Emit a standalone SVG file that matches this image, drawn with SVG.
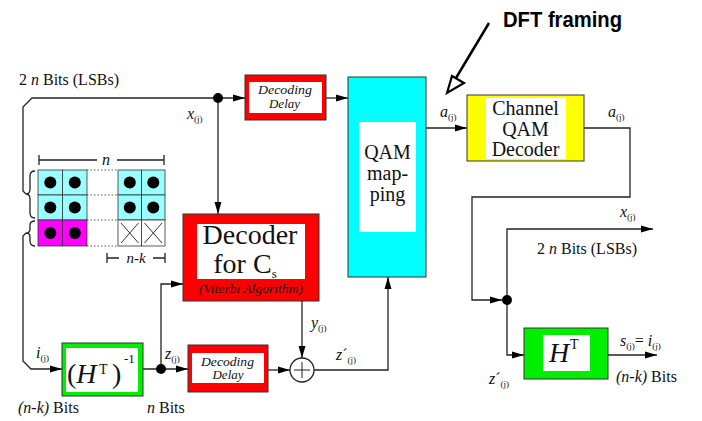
<svg xmlns="http://www.w3.org/2000/svg" width="702" height="421" viewBox="0 0 702 421">
<defs>
<marker id="ah" markerUnits="userSpaceOnUse" markerWidth="12" markerHeight="8" refX="12" refY="4" orient="auto">
<path d="M0,0.5 L12,4 L0,7.5 z" fill="#000"/>
</marker>
<style>
.ln{fill:none;stroke:#222;stroke-width:1.3}
.bx{stroke:#333;stroke-width:1}
.t{font-family:"Liberation Serif",serif;fill:#111}
.i{font-style:italic}
.sub{font-size:9px;font-style:normal}
.cell{stroke:#333;stroke-width:0.8}
.dot{fill:#000}
.dl{font-family:"Liberation Serif",serif;fill:#111;font-style:italic;font-size:12px}
</style>
</defs>
<rect width="702" height="421" fill="#fff"/>

<g id="connectors">
<path class="ln" d="M26 194 L23 191 L23 107 L32 98 L245 98" marker-end="url(#ah)"/>
<path class="ln" d="M218 98 L218 214" marker-end="url(#ah)"/>
<path class="ln" d="M326 98 L348 98" marker-end="url(#ah)"/>
<path class="ln" d="M426 128 L467 128" marker-end="url(#ah)"/>
<path class="ln" d="M584 128 L630 128 L630 197 L472 197 L472 300 L502 300" marker-end="url(#ah)"/>
<path class="ln" d="M507 300 L507 229 L653 229" marker-end="url(#ah)"/>
<path class="ln" d="M507 300 L507 355 L524 355" marker-end="url(#ah)"/>
<path class="ln" d="M608 355 L657 355" marker-end="url(#ah)"/>
<path class="ln" d="M26 233 L23 236 L23 361 L31 369 L62 369" marker-end="url(#ah)"/>
<path class="ln" d="M143 369 L188 369" marker-end="url(#ah)"/>
<path class="ln" d="M161 369 L161 284 L183 284" marker-end="url(#ah)"/>
<path class="ln" d="M268 370 L290 370" marker-end="url(#ah)"/>
<path class="ln" d="M302 301 L302 358" marker-end="url(#ah)"/>
<path class="ln" d="M314 370 L388 370 L388 277" marker-end="url(#ah)"/>
<circle class="dot" cx="218" cy="98" r="5"/>
<circle class="dot" cx="161" cy="369" r="5"/>
<circle class="dot" cx="507" cy="300" r="5"/>
</g>

<g id="dft-framing">
<line x1="489" y1="23" x2="456" y2="78" stroke="#000" stroke-width="2.5"/>
<path d="M447 93 L452 76 L464 83 z" fill="#fff" stroke="#000" stroke-width="2.2" stroke-linejoin="miter"/>
<text x="503" y="27" font-family="'Liberation Sans',Arial,sans-serif" font-size="22" font-weight="bold" textLength="119" lengthAdjust="spacingAndGlyphs" fill="#000">DFT framing</text>
</g>

<g id="grid">
<rect class="cell" x="38" y="170" width="24.5" height="25" fill="#99ffff"/>
<rect class="cell" x="62.5" y="170" width="24.5" height="25" fill="#99ffff"/>
<rect class="cell" x="38" y="195" width="24.5" height="25" fill="#99ffff"/>
<rect class="cell" x="62.5" y="195" width="24.5" height="25" fill="#99ffff"/>
<rect class="cell" x="38" y="220" width="24.5" height="26" fill="#ff00ff"/>
<rect class="cell" x="62.5" y="220" width="24.5" height="26" fill="#ff00ff"/>
<rect class="cell" x="118" y="170" width="23.5" height="25" fill="#99ffff"/>
<rect class="cell" x="141.5" y="170" width="23.5" height="25" fill="#99ffff"/>
<rect class="cell" x="118" y="195" width="23.5" height="25" fill="#99ffff"/>
<rect class="cell" x="141.5" y="195" width="23.5" height="25" fill="#99ffff"/>
<rect class="cell" x="118" y="220" width="23.5" height="26" fill="#fff"/>
<rect class="cell" x="141.5" y="220" width="23.5" height="26" fill="#fff"/>
<path d="M121 223 L138.5 243 M138.5 223 L121 243 M144.5 223 L162 243 M162 223 L144.5 243" stroke="#333" stroke-width="1"/>
<path d="M87 170 L118 170 M87 195 L118 195 M87 220 L118 220 M87 246 L118 246" stroke="#555" stroke-width="1" stroke-dasharray="1.5 2"/>
<g class="dot">
<circle cx="50.3" cy="182.5" r="6"/><circle cx="74.8" cy="182.5" r="6"/>
<circle cx="50.3" cy="207.5" r="6"/><circle cx="74.8" cy="207.5" r="6"/>
<circle cx="50.3" cy="233" r="6"/><circle cx="74.8" cy="233" r="6"/>
<circle cx="129.8" cy="182.5" r="6"/><circle cx="153.3" cy="182.5" r="6"/>
<circle cx="129.8" cy="207.5" r="6"/><circle cx="153.3" cy="207.5" r="6"/>
</g>
<path class="ln" d="M39 155 L39 165 M39 160 L97 160 M117 160 L164 160 M164 155 L164 165"/>
<text class="t i" x="106" y="165" font-size="16" text-anchor="middle">n</text>
<path class="ln" d="M107 253 L107 263 M107 258 L119 258 M153 258 L165 258 M165 253 L165 263"/>
<text class="t i" x="136" y="263" font-size="15" text-anchor="middle">n-k</text>
<path class="ln" d="M35 171 Q30 171 30 176 L30 189 Q30 194 26 194 Q30 194 30 199 L30 213 Q30 218 35 218"/>
<path class="ln" d="M35 221 Q30 221 30 225 L30 229 Q30 233 26 233 Q30 233 30 237 L30 241 Q30 246 35 246"/>
</g>

<g id="delay-top">
<rect class="bx" x="245" y="75" width="81" height="45" fill="#ff0000"/>
<rect x="249" y="82" width="73" height="31" fill="#fff"/>
<text class="dl" x="258" y="93.5" textLength="54" lengthAdjust="spacingAndGlyphs">Decoding</text>
<text class="dl" x="269" y="107.5" textLength="31" lengthAdjust="spacingAndGlyphs">Delay</text>
</g>

<g id="qam-mapping">
<rect class="bx" x="348" y="77" width="78" height="200" fill="#00ffff"/>
<rect x="359" y="122" width="57" height="110" fill="#fff"/>
<text class="t" x="387.5" y="159" font-size="20" text-anchor="middle">QAM</text>
<text class="t" x="387.5" y="180" font-size="20" text-anchor="middle">map-</text>
<text class="t" x="387.5" y="201" font-size="20" text-anchor="middle">ping</text>
</g>

<g id="channel-qam-decoder">
<rect class="bx" x="467" y="95" width="117" height="66" fill="#ffff00"/>
<rect x="486" y="98" width="80" height="61" fill="#fff"/>
<text class="t" x="525.5" y="115" font-size="20" text-anchor="middle">Channel</text>
<text class="t" x="525.5" y="136" font-size="20" text-anchor="middle">QAM</text>
<text class="t" x="525.5" y="156" font-size="20" text-anchor="middle">Decoder</text>
</g>

<g id="decoder-cs">
<rect class="bx" x="183" y="214" width="136" height="87" fill="#ff0000"/>
<rect x="197" y="224" width="108" height="55" fill="#fff"/>
<text class="t" x="250" y="244" font-size="28" text-anchor="middle">Decoder</text>
<text class="t" x="245" y="273" font-size="28" text-anchor="middle">for C<tspan font-size="13" dy="5">s</tspan></text>
<text class="t i" x="199" y="293" font-size="12" textLength="104" lengthAdjust="spacingAndGlyphs">(Viterbi Algorithm)</text>
</g>

<g id="h-inverse">
<rect class="bx" x="62" y="343" width="81" height="53" fill="#00ee00"/>
<rect x="66" y="348" width="72" height="44" fill="#fff"/>
<text class="t" x="67" y="383" font-size="28">(<tspan font-style="italic">H</tspan></text>
<text class="t" x="99" y="374" font-size="14">T</text>
<text class="t" x="112" y="383" font-size="28">)</text>
<text class="t" x="124" y="363" font-size="13">-1</text>
</g>

<g id="delay-bottom">
<rect class="bx" x="188" y="345" width="80" height="47" fill="#ff0000"/>
<rect x="192" y="353" width="72" height="30" fill="#fff"/>
<text class="dl" x="201" y="365.5" textLength="53" lengthAdjust="spacingAndGlyphs">Decoding</text>
<text class="dl" x="212.5" y="379" textLength="31" lengthAdjust="spacingAndGlyphs">Delay</text>
</g>

<g id="adder">
<circle cx="302" cy="370" r="12" fill="#fff" stroke="#222" stroke-width="1.3"/>
<path d="M294 370 L310 370 M302 362 L302 378" stroke="#222" stroke-width="1"/>
</g>

<g id="ht">
<rect class="bx" x="524" y="328" width="84" height="51" fill="#00ee00"/>
<rect x="543" y="335" width="47" height="36" fill="#fff"/>
<text class="t i" x="549" y="362" font-size="28">H</text>
<text class="t" x="570" y="349" font-size="14">T</text>
</g>

<g id="labels">
<text class="t" x="19" y="85" font-size="16">2 <tspan font-style="italic">n</tspan> Bits (LSBs)</text>
<text class="t i" x="187" y="119" font-size="16">x<tspan class="sub" dy="3">(j)</tspan></text>
<text class="t i" x="440" y="117" font-size="16">a<tspan class="sub" dy="3">(j)</tspan></text>
<text class="t i" x="608" y="117" font-size="16">a<tspan class="sub" dy="3">(j)</tspan></text>
<text class="t i" x="311" y="328" font-size="16">y<tspan class="sub" dy="3">(j)</tspan></text>
<text class="t i" x="336" y="360" font-size="16">z<tspan font-style="normal">´</tspan><tspan class="sub" dy="3">(j)</tspan></text>
<text class="t i" x="36" y="358" font-size="16">i<tspan class="sub" dy="3">(j)</tspan></text>
<text class="t i" x="165" y="359" font-size="16">z<tspan class="sub" dy="3">(j)</tspan></text>
<text class="t" x="18" y="413" font-size="16"><tspan font-style="italic">(n-k)</tspan> Bits</text>
<text class="t" x="147" y="413" font-size="16"><tspan font-style="italic">n</tspan> Bits</text>
<text class="t i" x="620" y="217" font-size="16">x<tspan class="sub" dy="3">(j)</tspan></text>
<text class="t" x="537" y="254" font-size="16">2 <tspan font-style="italic">n</tspan> Bits (LSBs)</text>
<text class="t i" x="620" y="346" font-size="16">s<tspan class="sub" dy="3">(j)</tspan><tspan font-style="normal" dy="-3">= </tspan>i<tspan class="sub" dy="3">(j)</tspan></text>
<text class="t" x="616" y="382" font-size="16"><tspan font-style="italic">(n-k)</tspan> Bits</text>
<text class="t i" x="489" y="384" font-size="16">z<tspan font-style="normal">´</tspan><tspan class="sub" dy="3">(j)</tspan></text>
</g>
</svg>
